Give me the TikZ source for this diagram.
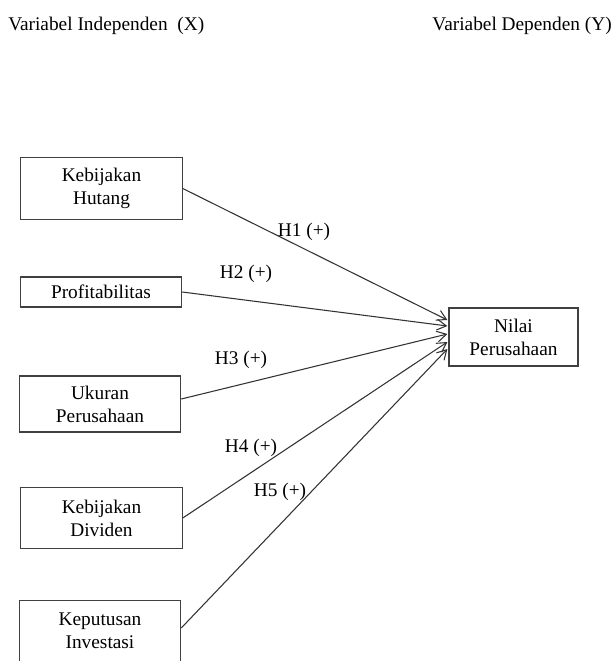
\documentclass[tikz,border=0pt]{standalone}
\usepackage{fontspec}
\setmainfont{Liberation Serif}
\usetikzlibrary{arrows.meta, calc}

\begin{document}
\begin{tikzpicture}[x=0.75pt, y=-0.75pt,
  every node/.style={font=\fontsize{14.5}{17.4}\selectfont},
  var/.style={rectangle, draw=black!75, line width=0.9pt, minimum width=121pt,
              minimum height=46pt, align=center, inner sep=0pt},
  hyp/.style={->, >={Straight Barb[length=7pt, width=8pt]}, draw=black!80, line width=0.8pt},
  lbl/.style={inner sep=0pt}
]
\useasboundingbox (0,0) rectangle (613,661);

%% ---- headers ----
\node[lbl, anchor=west] at (8,26)   (hx) {Variabel Independen\ \ (X)};
\node[lbl, anchor=east] at (612,26) (hy) {Variabel Dependen (Y)};

%% ---- independent variables (left) ----
\node[var] at (101.5,188.5) (kh)   {Kebijakan\\Hutang};
\node[var, minimum height=22.5pt] at (101,292) (prof) {Profitabilitas};
\node[var, minimum height=42pt] at (100,404) (uk)   {Ukuran\\Perusahaan};
\node[var] at (101.5,518) (div)  {Kebijakan\\Dividen};
\node[var] at (100,631)   (inv)  {Keputusan\\Investasi};

%% ---- dependent variable (right) ----
\node[var, minimum width=96.75pt, minimum height=43.5pt] at (513.5,337) (nilai) {Nilai\\Perusahaan};

%% ---- hypotheses ----
\draw[hyp] (kh.east)                 -- ($(nilai.west)+(-1,-17)$);
\draw[hyp] (prof.east)               -- ($(nilai.west)+(-1,-11)$);
\draw[hyp] ($(uk.east)+(0,-5)$)      -- ($(nilai.west)+(-1,-3)$);
\draw[hyp] (div.east)                -- ($(nilai.west)+(-1,5)$);
\draw[hyp] ($(inv.east)+(0,-3)$)     -- ($(nilai.west)+(-1,12)$);

\node[lbl] at (304,232) (h1) {H1 (+)};
\node[lbl] at (246,274) (h2) {H2 (+)};
\node[lbl] at (241,360) (h3) {H3 (+)};
\node[lbl] at (251,448) (h4) {H4 (+)};
\node[lbl] at (280,492) (h5) {H5 (+)};
\end{tikzpicture}
\end{document}
